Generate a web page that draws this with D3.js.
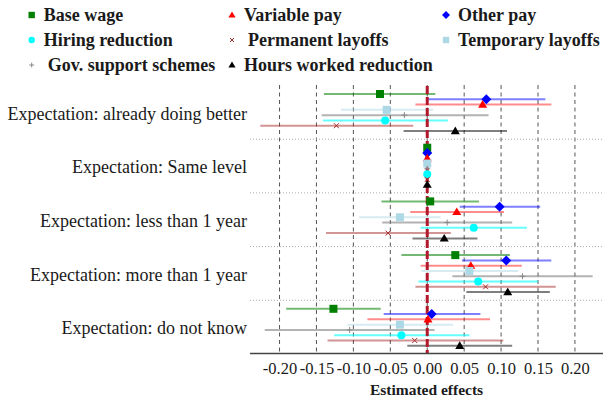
<!DOCTYPE html>
<html>
<head>
<meta charset="utf-8">
<script src="https://cdn.jsdelivr.net/npm/d3@7"></script>
<style>
  html, body { margin: 0; padding: 0; background: #fff; }
  svg { display: block; }
  svg text { font-family: "Liberation Serif", "Times New Roman", serif !important; fill: #1a1a1a; }
</style>
</head>
<body>
<svg id="chart" width="603" height="399"></svg>
<script>
// Expectation groups (rows of the coefficient plot)
const groups = [
  "Expectation: already doing better",
  "Expectation: Same level",
  "Expectation: less than 1 year",
  "Expectation: more than 1 year",
  "Expectation: do not know"
];

// Outcome series, in the order they are stacked inside each group
const seriesNames = [
  "Base wage", "Other pay", "Variable pay", "Temporary layoffs",
  "Gov. support schemes", "Hiring reduction", "Permanent layoffs", "Hours worked reduction"
];

// Point estimates and 95% confidence bounds, one value per group
const baseWage     = [-0.064, 0, 0.004, 0.038, -0.127];
const baseWageLo   = [-0.140, 0, -0.062, -0.035, -0.191];
const baseWageHi   = [0.011, 0, 0.070, 0.112, -0.063];

const otherPay     = [0.080, 0, 0.098, 0.107, 0.006];
const otherPayLo   = [0.001, 0, 0.044, 0.047, -0.059];
const otherPayHi   = [0.160, 0, 0.153, 0.168, 0.072];

const variablePay   = [0.075, 0, 0.040, 0.059, 0.001];
const variablePayLo = [-0.016, 0, -0.023, -0.009, -0.081];
const variablePayHi = [0.168, 0, 0.104, 0.128, 0.085];

const tempLayoffs   = [-0.055, 0, -0.037, 0.057, -0.037];
const tempLayoffsLo = [-0.117, 0, -0.092, -0.008, -0.108];
const tempLayoffsHi = [0.008, 0, 0.018, 0.123, 0.035];

const govSupport    = [-0.031, 0, 0.027, 0.129, -0.105];
const govSupportLo  = [-0.143, 0, -0.061, 0.034, -0.220];
const govSupportHi  = [0.083, 0, 0.115, 0.224, 0.010];

const hiringRed     = [-0.057, 0, 0.063, 0.069, -0.035];
const hiringRedLo   = [-0.141, 0, -0.009, -0.012, -0.126];
const hiringRedHi   = [0.028, 0, 0.135, 0.150, 0.057];

const permLayoffs   = [-0.123, 0, -0.053, 0.079, -0.017];
const permLayoffsLo = [-0.226, 0, -0.137, -0.016, -0.135];
const permLayoffsHi = [-0.019, 0, 0.032, 0.174, 0.103];

const hoursRed      = [0.038, 0, 0.023, 0.109, 0.044];
const hoursRedLo    = [-0.032, 0, -0.020, 0.053, -0.027];
const hoursRedHi    = [0.108, 0, 0.068, 0.166, 0.115];

// Axis ticks
const tickValues = [-0.20, -0.15, -0.10, -0.05, 0.00, 0.05, 0.10, 0.15, 0.20];

// Legend order (row by row, three columns)
const legendOrder = [
  "Base wage", "Variable pay", "Other pay",
  "Hiring reduction", "Permanent layoffs", "Temporary layoffs",
  "Gov. support schemes", "Hours worked reduction"
];

// Visual style of each series
const styles = {
  "Base wage":              { color: "#008000", line: "rgba(0,128,0,0.55)",     symbol: "square",   size: 8 },
  "Other pay":              { color: "#0000ff", line: "rgba(0,0,255,0.5)",      symbol: "diamond",  size: 10 },
  "Variable pay":           { color: "#ff0000", line: "rgba(255,0,0,0.45)",     symbol: "triangle", size: 9 },
  "Temporary layoffs":      { color: "#add8e6", line: "rgba(173,216,230,0.5)",  symbol: "square",   size: 8 },
  "Gov. support schemes":   { color: "#888888", line: "rgba(128,128,128,0.6)",  symbol: "plus",     size: 6 },
  "Hiring reduction":       { color: "#00ffff", line: "rgba(0,255,255,0.6)",    symbol: "circle",   size: 8 },
  "Permanent layoffs":      { color: "#a52a2a", line: "rgba(165,42,42,0.5)",    symbol: "times",    size: 5 },
  "Hours worked reduction": { color: "#000000", line: "rgba(0,0,0,0.5)",        symbol: "triangle", size: 9 }
};

const seriesData = {
  "Base wage":              [baseWage, baseWageLo, baseWageHi],
  "Other pay":              [otherPay, otherPayLo, otherPayHi],
  "Variable pay":           [variablePay, variablePayLo, variablePayHi],
  "Temporary layoffs":      [tempLayoffs, tempLayoffsLo, tempLayoffsHi],
  "Gov. support schemes":   [govSupport, govSupportLo, govSupportHi],
  "Hiring reduction":       [hiringRed, hiringRedLo, hiringRedHi],
  "Permanent layoffs":      [permLayoffs, permLayoffsLo, permLayoffsHi],
  "Hours worked reduction": [hoursRed, hoursRedLo, hoursRedHi]
};

const rows = [];
seriesNames.forEach(s => {
  const [est, lo, hi] = seriesData[s];
  groups.forEach((g, i) => rows.push({ series: s, group: g, est: est[i], lo: lo[i], hi: hi[i] }));
});

const svg = d3.select("#chart");
const plot = { left: 250, right: 603, top: 85, bottom: 353.5 };

const x = d3.scaleLinear().domain([-0.24, 0.238]).range([plot.left, plot.right]);
const yGroup = d3.scaleBand().domain(groups).range([plot.top, plot.bottom]);
const yInner = d3.scalePoint().domain(seriesNames).range([9, 46]);
const rowY = d => yGroup(d.group) + yInner(d.series);

// Marker drawing helper
function marker(sel, name, scale) {
  const st = styles[name];
  const k = scale || 1;
  const sz = st.size * k;
  if (st.symbol === "square") {
    sel.append("rect").attr("x", -sz / 2).attr("y", -sz / 2).attr("width", sz).attr("height", sz)
      .attr("fill", st.color);
  } else if (st.symbol === "diamond") {
    sel.append("path").attr("d", `M0,${-sz / 2}L${sz / 2},0L0,${sz / 2}L${-sz / 2},0Z`).attr("fill", st.color);
  } else if (st.symbol === "triangle") {
    sel.append("path").attr("d", `M0,${-sz * 0.5}L${sz * 0.5},${sz * 0.35}L${-sz * 0.5},${sz * 0.35}Z`)
      .attr("fill", st.color);
  } else if (st.symbol === "circle") {
    sel.append("circle").attr("r", sz / 2).attr("fill", st.color);
  } else if (st.symbol === "plus") {
    sel.append("path").attr("d", `M0,${-sz / 2}V${sz / 2}M${-sz / 2},0H${sz / 2}`)
      .attr("stroke", st.color).attr("stroke-width", 1).attr("fill", "none");
  } else if (st.symbol === "times") {
    sel.append("path").attr("d", `M${-sz / 2},${-sz / 2}L${sz / 2},${sz / 2}M${sz / 2},${-sz / 2}L${-sz / 2},${sz / 2}`)
      .attr("stroke", st.color).attr("stroke-width", 1).attr("fill", "none");
  }
}

// Vertical dashed grid at each tick
svg.append("g").selectAll("line").data(tickValues).join("line")
  .attr("x1", d => x(d)).attr("x2", d => x(d))
  .attr("y1", plot.top).attr("y2", plot.bottom)
  .attr("stroke", "#555").attr("stroke-width", 1).attr("stroke-dasharray", "4,3.5");

// Dotted separators between groups
svg.append("g").selectAll("line").data(groups.slice(1)).join("line")
  .attr("x1", plot.left).attr("x2", plot.right)
  .attr("y1", d => yGroup(d) + 0.5).attr("y2", d => yGroup(d) + 0.5)
  .attr("stroke", "#aaa").attr("stroke-width", 1).attr("stroke-dasharray", "1,2");

// Confidence intervals
svg.append("g").selectAll("line").data(rows.filter(d => d.hi > d.lo)).join("line")
  .attr("x1", d => x(d.lo)).attr("x2", d => x(d.hi))
  .attr("y1", rowY).attr("y2", rowY)
  .attr("stroke", d => styles[d.series].line).attr("stroke-width", 2);

// Reference line at zero
svg.append("line")
  .attr("x1", x(0)).attr("x2", x(0))
  .attr("y1", plot.top + 1).attr("y2", plot.bottom)
  .attr("stroke", "#b2182b").attr("stroke-width", 3).attr("stroke-dasharray", "8,3");

// Point estimates
svg.append("g").selectAll("g").data(rows).join("g")
  .attr("transform", d => `translate(${x(d.est)},${rowY(d)})`)
  .each(function (d) { marker(d3.select(this), d.series); });

// X axis
const xAxis = d3.axisBottom(x).tickValues(tickValues).tickFormat(d3.format(".2f")).tickSize(0).tickPadding(9);
const ax = svg.append("g").attr("transform", `translate(0,${plot.bottom})`).call(xAxis);
ax.select(".domain").attr("stroke", "#444").attr("stroke-width", 1.5)
  .attr("d", `M${plot.left},0H${plot.right}`);
ax.selectAll("text").attr("font-size", 16.5).attr("fill", "#1a1a1a")
  .text(d => d3.format(".2f")(d).replace("−", "-"));

svg.append("text")
  .attr("x", (plot.left + plot.right) / 2).attr("y", 390).attr("dy", "0.35em")
  .attr("text-anchor", "middle").attr("font-size", 15.5).attr("font-weight", "bold")
  .text("Estimated effects");

// Group labels
svg.append("g").selectAll("text").data(groups).join("text")
  .attr("x", 247).attr("y", d => yGroup(d) + yGroup.bandwidth() / 2 + 1.5).attr("dy", "0.35em")
  .attr("text-anchor", "end").attr("font-size", 18)
  .text(d => d);

// Legend
const legCols = [31.7, 232, 446];
const legRows = [15, 40, 65];
const leg = svg.append("g").selectAll("g").data(legendOrder).join("g")
  .attr("transform", (d, i) => `translate(${legCols[i % 3]},${legRows[Math.floor(i / 3)]})`);
leg.each(function (d) { marker(d3.select(this), d, 0.8); });
leg.append("text")
  .attr("x", d => (styles[d].symbol === "plus" || styles[d].symbol === "times") ? 16 : 12)
  .attr("dy", "0.35em").attr("font-size", 18).attr("font-weight", "bold")
  .text(d => d);
</script>
</body>
</html>
